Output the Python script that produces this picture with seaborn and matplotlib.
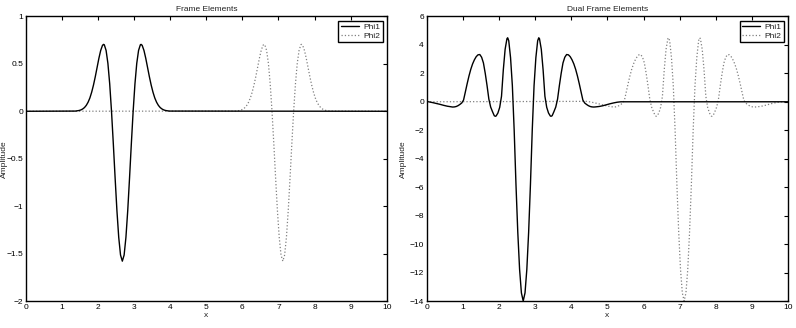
import matplotlib
matplotlib.use("Agg")
import matplotlib.pyplot as plt
from matplotlib.ticker import FuncFormatter
import seaborn as sns
import pandas as pd

# ---------------- data ----------------
frame_phi1_x = [0.0, 1.37, 1.47, 1.52, 1.57, 1.62, 1.67, 1.72, 1.77, 1.82, 1.87, 1.92, 1.97, 2.02,
                2.07, 2.12, 2.15, 2.17, 2.22, 2.27, 2.32, 2.37, 2.42, 2.47, 2.52, 2.57, 2.62, 2.67,
                2.72, 2.77, 2.82, 2.87, 2.92, 2.97, 3.02, 3.07, 3.12, 3.17, 3.19, 3.22, 3.27, 3.32,
                3.37, 3.42, 3.47, 3.52, 3.57, 3.62, 3.67, 3.72, 3.77, 3.82, 3.87, 3.97, 10.0]
frame_phi2_x = [0.0, 5.82, 5.92, 5.97, 6.02, 6.07, 6.12, 6.17, 6.22, 6.27, 6.32, 6.37, 6.42, 6.47,
                6.52, 6.57, 6.60, 6.62, 6.67, 6.72, 6.77, 6.82, 6.87, 6.92, 6.97, 7.02, 7.07, 7.12,
                7.17, 7.22, 7.27, 7.32, 7.37, 7.42, 7.47, 7.52, 7.57, 7.62, 7.64, 7.67, 7.72, 7.77,
                7.82, 7.87, 7.92, 7.97, 8.02, 8.07, 8.12, 8.17, 8.22, 8.27, 8.32, 8.42, 10.0]
frame_y = [0.0, 0.002, 0.008, 0.014, 0.024, 0.039, 0.062, 0.095, 0.140, 0.201, 0.276, 0.364, 0.461, 0.558,
           0.641, 0.695, 0.705, 0.701, 0.641, 0.505, 0.289, 0.0, -0.341, -0.703, -1.046, -1.328, -1.515, -1.58,
           -1.515, -1.328, -1.046, -0.703, -0.341, 0.0, 0.289, 0.505, 0.641, 0.701, 0.705, 0.695, 0.641, 0.558,
           0.461, 0.364, 0.276, 0.201, 0.140, 0.095, 0.062, 0.039, 0.024, 0.014, 0.008, 0.002, 0.0]

dual_phi1_x = [0.00, 0.07, 0.17, 0.27, 0.37, 0.47, 0.57, 0.67, 0.72, 0.77, 0.82, 0.87, 0.92, 0.97,
               1.02, 1.07, 1.12, 1.17, 1.22, 1.27, 1.32, 1.37, 1.42, 1.47, 1.52, 1.57, 1.62, 1.67,
               1.72, 1.77, 1.82, 1.87, 1.90, 1.92, 1.97, 2.02, 2.07, 2.12, 2.17, 2.22, 2.24, 2.27,
               2.32, 2.37, 2.42, 2.47, 2.52, 2.57, 2.62, 2.67, 2.72, 2.77, 2.82, 2.87, 2.92, 2.97,
               3.02, 3.07, 3.10, 3.12, 3.17, 3.22, 3.27, 3.32, 3.37, 3.42, 3.44, 3.47, 3.52, 3.57,
               3.62, 3.67, 3.72, 3.77, 3.82, 3.87, 3.92, 3.97, 4.02, 4.07, 4.12, 4.17, 4.22, 4.27,
               4.32, 4.37, 4.42, 4.47, 4.52, 4.57, 4.62, 4.67, 4.77, 4.87, 4.97, 5.07, 5.17, 5.27,
               5.37, 10.0]
dual_phi1_y = [0.03, -0.01, -0.06, -0.12, -0.18, -0.25, -0.31, -0.35, -0.37, -0.36, -0.33, -0.27, -0.185, -0.085,
               0.12, 0.69, 1.27, 1.81, 2.28, 2.66, 2.95, 3.17, 3.30, 3.32, 3.13, 2.73, 2.00, 1.14,
               0.19, -0.37, -0.69, -0.98, -1.02, -1.00, -0.79, -0.39, 0.39, 2.25, 3.69, 4.43, 4.50, 4.29,
               3.10, 1.13, -1.99, -5.82, -9.17, -11.78, -13.43, -14.0, -13.43, -11.78, -9.17, -5.82, -1.99, 1.13,
               3.10, 4.29, 4.50, 4.43, 3.69, 2.25, 0.39, -0.39, -0.79, -1.00, -1.02, -0.98, -0.69, -0.37,
               0.19, 1.14, 2.00, 2.73, 3.13, 3.32, 3.30, 3.17, 2.95, 2.66, 2.28, 1.81, 1.27, 0.69,
               0.12, -0.085, -0.185, -0.27, -0.33, -0.36, -0.37, -0.36, -0.33, -0.28, -0.21, -0.14, -0.08, -0.03,
               0.0, 0.0]
dual_phi2_x = [0.0, 4.45, 4.52, 4.62, 4.72, 4.82, 4.92, 5.02, 5.12, 5.17, 5.22, 5.27, 5.32, 5.37, 5.42,
               5.47, 5.52, 5.57, 5.62, 5.67, 5.72, 5.77, 5.82, 5.87, 5.92, 5.97, 6.02, 6.07, 6.12,
               6.17, 6.22, 6.27, 6.32, 6.35, 6.37, 6.42, 6.47, 6.52, 6.57, 6.62, 6.67, 6.69, 6.72,
               6.77, 6.82, 6.87, 6.92, 6.97, 7.02, 7.07, 7.12, 7.17, 7.22, 7.27, 7.32, 7.37, 7.42,
               7.47, 7.52, 7.55, 7.57, 7.62, 7.67, 7.72, 7.77, 7.82, 7.87, 7.89, 7.92, 7.97, 8.02,
               8.07, 8.12, 8.17, 8.22, 8.27, 8.32, 8.37, 8.42, 8.47, 8.52, 8.57, 8.62, 8.67, 8.72,
               8.77, 8.82, 8.87, 8.92, 8.97, 9.02, 9.07, 9.12, 9.22, 9.32, 9.42, 9.52, 9.62, 9.72,
               9.82, 10.0]
dual_phi2_y = [0.0, 0.03, -0.01, -0.06, -0.12, -0.18, -0.25, -0.31, -0.35, -0.37, -0.36, -0.33, -0.27, -0.185, -0.085,
               0.12, 0.69, 1.27, 1.81, 2.28, 2.66, 2.95, 3.17, 3.30, 3.32, 3.13, 2.73, 2.00, 1.14,
               0.19, -0.37, -0.69, -0.98, -1.02, -1.00, -0.79, -0.39, 0.39, 2.25, 3.69, 4.43, 4.50, 4.29,
               3.10, 1.13, -1.99, -5.82, -9.17, -11.78, -13.43, -14.0, -13.43, -11.78, -9.17, -5.82, -1.99, 1.13,
               3.10, 4.29, 4.50, 4.43, 3.69, 2.25, 0.39, -0.39, -0.79, -1.00, -1.02, -0.98, -0.69, -0.37,
               0.19, 1.14, 2.00, 2.73, 3.13, 3.32, 3.30, 3.17, 2.95, 2.66, 2.28, 1.81, 1.27, 0.69,
               0.12, -0.085, -0.185, -0.27, -0.33, -0.36, -0.37, -0.36, -0.33, -0.28, -0.21, -0.14, -0.08, -0.03,
               0.0, 0.0]

series_names = ["Phi1", "Phi2"]
titles = ["Frame Elements", "Dual Frame Elements"]
x_label = "x"
y_label = "Amplitude"
x_ticks = [0, 1, 2, 3, 4, 5, 6, 7, 8, 9, 10]
left_y_ticks = [-2, -1.5, -1, -0.5, 0, 0.5, 1]
right_y_ticks = [-14, -12, -10, -8, -6, -4, -2, 0, 2, 4, 6]

# ---------------- style ----------------
sns.set_theme(style="white")
plt.rcParams.update({
    "font.family": ["Liberation Sans", "DejaVu Sans"],
    "font.size": 6,
    "axes.edgecolor": "black",
    "axes.linewidth": 1.0,
    "xtick.direction": "in",
    "ytick.direction": "in",
    "xtick.top": True,
    "ytick.right": True,
    "xtick.major.size": 3,
    "ytick.major.size": 3,
    "xtick.major.width": 0.8,
    "ytick.major.width": 0.8,
    "xtick.major.pad": 2,
    "ytick.major.pad": 2,
    "xtick.color": "black",
    "ytick.color": "black",
    "xtick.labelsize": 6,
    "ytick.labelsize": 6,
    "axes.labelsize": 6,
    "axes.titlesize": 6,
    "text.color": "#222222",
    "axes.labelcolor": "#222222",
})

fig = plt.figure(figsize=(7.96, 3.28), dpi=100)
ax1 = fig.add_axes([0.0327, 0.0823, 0.4531, 0.8677])
ax2 = fig.add_axes([0.5360, 0.0823, 0.4543, 0.8677])

fmt = FuncFormatter(lambda v, p: f"{v:g}".replace("-", "\u2212"))


def draw(ax, x1, y1, x2, y2, yticks, title):
    d1 = pd.DataFrame({"x": x1, "y": y1})
    d2 = pd.DataFrame({"x": x2, "y": y2})
    sns.lineplot(data=d2, x="x", y="y", ax=ax, color="0.5", linestyle=":", linewidth=0.9,
                 sort=False, estimator=None, label=series_names[1], zorder=2)
    sns.lineplot(data=d1, x="x", y="y", ax=ax, color="black", linestyle="-", linewidth=1.0,
                 sort=False, estimator=None, label=series_names[0], zorder=3)
    ax.set_xlim(x_ticks[0], x_ticks[-1])
    ax.set_ylim(yticks[0], yticks[-1])
    ax.set_xticks(x_ticks)
    ax.set_yticks(yticks)
    ax.xaxis.set_major_formatter(fmt)
    ax.yaxis.set_major_formatter(fmt)
    ax.set_xlabel(x_label, labelpad=1)
    ax.set_ylabel(y_label, labelpad=2)
    ax.set_title(title, pad=4)
    handles, labels = ax.get_legend_handles_labels()
    order = [labels.index(n) for n in series_names]
    leg = ax.legend([handles[i] for i in order], [labels[i] for i in order],
                    loc="upper right", fontsize=6, frameon=True, fancybox=False,
                    framealpha=1, edgecolor="black", borderpad=0.3, labelspacing=0.1,
                    handlelength=2.2, handletextpad=0.5, borderaxespad=0.5)
    leg.get_frame().set_linewidth(1.0)
    for s in ax.spines.values():
        s.set_visible(True)
        s.set_color("black")


draw(ax1, frame_phi1_x, frame_y, frame_phi2_x, frame_y, left_y_ticks, titles[0])
draw(ax2, dual_phi1_x, dual_phi1_y, dual_phi2_x, dual_phi2_y, right_y_ticks, titles[1])

# keep the left y label fully inside the figure
ax1.yaxis.set_label_coords(-0.05, 0.5)

fig.savefig("out.png", dpi=100)
